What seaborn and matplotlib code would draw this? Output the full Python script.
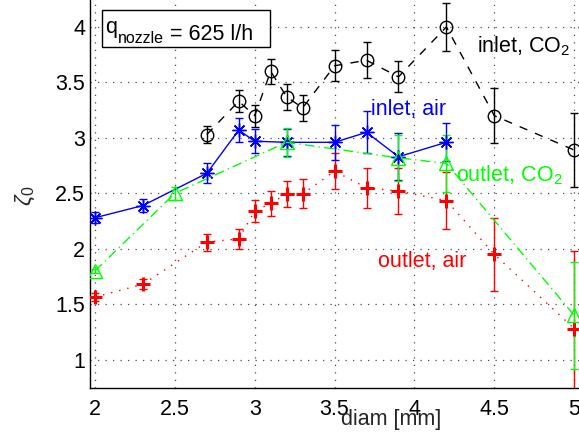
import numpy as np
import pandas as pd
import matplotlib
matplotlib.use("Agg")
import matplotlib.pyplot as plt
from matplotlib.patches import Rectangle
import seaborn as sns

# ---- data ----
inlet_air_x = [2.0, 2.3, 2.7, 2.9, 3.0, 3.2, 3.5, 3.7, 3.9, 4.2]
inlet_air_y = [2.28, 2.39, 2.68, 3.07, 2.97, 2.96, 2.96, 3.05, 2.83, 2.96]
inlet_air_e = [0.05, 0.06, 0.09, 0.11, 0.11, 0.12, 0.16, 0.19, 0.21, 0.17]

outlet_co2_x = [2.0, 2.5, 3.2, 3.9, 4.2, 5.0]
outlet_co2_y = [1.80, 2.50, 2.96, 2.82, 2.77, 1.40]
outlet_co2_e = [0.02, 0.06, 0.13, 0.21, 0.26, 0.48]

outlet_air_x = [2.0, 2.3, 2.7, 2.9, 3.0, 3.1, 3.2, 3.3, 3.5, 3.7, 3.9, 4.2, 4.5, 5.0]
outlet_air_y = [1.565, 1.68, 2.06, 2.09, 2.34, 2.41, 2.495, 2.495, 2.70, 2.55, 2.52, 2.435, 1.95, 1.28]
outlet_air_e = [0.04, 0.045, 0.077, 0.09, 0.10, 0.11, 0.12, 0.13, 0.16, 0.18, 0.21, 0.26, 0.33, 0.70]

inlet_co2_x = [2.7, 2.9, 3.0, 3.1, 3.2, 3.3, 3.5, 3.7, 3.9, 4.2, 4.5, 5.0]
inlet_co2_y = [3.03, 3.33, 3.20, 3.60, 3.37, 3.27, 3.65, 3.70, 3.55, 4.00, 3.20, 2.89]
inlet_co2_e = [0.08, 0.10, 0.10, 0.11, 0.115, 0.12, 0.14, 0.16, 0.14, 0.22, 0.25, 0.33]

x_ticks = [2, 2.5, 3, 3.5, 4, 4.5, 5]
x_tick_labels = ["2", "2.5", "3", "3.5", "4", "4.5", "5"]
y_ticks = [1, 1.5, 2, 2.5, 3, 3.5, 4]
y_tick_labels = ["1", "1.5", "2", "2.5", "3", "3.5", "4"]

series = [
    ("inlet, air", inlet_air_x, inlet_air_y, inlet_air_e),
    ("outlet, air", outlet_air_x, outlet_air_y, outlet_air_e),
    ("inlet, CO2", inlet_co2_x, inlet_co2_y, inlet_co2_e),
    ("outlet, CO2", outlet_co2_x, outlet_co2_y, outlet_co2_e),
]
df = pd.concat([
    pd.DataFrame({"series": name, "diam": x, "zeta": y, "err": e})
    for name, x, y, e in series
], ignore_index=True)

styles = {
    "inlet, air": dict(color=(0, 0, 1), marker=(8, 2, 0), ms=10, ls="-", mew=1.0),
    "outlet, air": dict(color=(1, 0, 0), marker="+", ms=10, ls=(0, (1, 5)), mew=2.2),
    "inlet, CO2": dict(color=(0, 0, 0), marker="o", ms=9, ls=(0, (6, 6)), mew=1.0),
    "outlet, CO2": dict(color=(0, 1, 0), marker="^", ms=10, ls=(0, (7, 3, 1, 3)), mew=1.0),
}

FS = 15.5

# ---- figure ----
sns.set_style("white")
plt.rcParams["font.family"] = ["Liberation Sans", "DejaVu Sans"]
plt.rcParams["mathtext.fontset"] = "custom"
plt.rcParams["mathtext.rm"] = "Liberation Sans"
plt.rcParams["mathtext.it"] = "Liberation Sans:italic"

fig = plt.figure(figsize=(5.79, 4.40), dpi=100)
ax = fig.add_axes([90 / 579, 52 / 440, 489 / 579, 388 / 440])

for name in ["inlet, CO2", "outlet, air", "inlet, air", "outlet, CO2"]:
    st = styles[name]
    sub = df[df.series == name]
    ax.errorbar(sub["diam"], sub["zeta"], yerr=sub["err"], fmt="none",
                 ecolor=st["color"], elinewidth=1.0, capsize=3.2, capthick=1.0,
                 zorder=3)
    sns.lineplot(data=sub, x="diam", y="zeta", ax=ax, color=st["color"],
                 marker=st["marker"], markersize=st["ms"],
                 markerfacecolor="none", markeredgecolor=st["color"],
                 markeredgewidth=st["mew"], linestyle=st["ls"], linewidth=1.0,
                 errorbar=None, sort=False, zorder=4)

ax.set_xlim(1.969, 5.03)
ax.set_ylim(0.745, 4.243)
ax.set_xticks(x_ticks)
ax.set_xticklabels(x_tick_labels)
ax.set_yticks(y_ticks)
ax.set_yticklabels(y_tick_labels)
ax.tick_params(axis="both", direction="in", length=4, width=0.8, labelsize=FS,
               colors="black")
ax.tick_params(axis="x", pad=8)
ax.tick_params(axis="y", pad=3.5)

ax.grid(True, color="0.3", linestyle=(0, (1, 5)), linewidth=0.9)
ax.set_axisbelow(True)
for s in ["top", "right"]:
    ax.spines[s].set_visible(False)
for s in ["left", "bottom"]:
    ax.spines[s].set_color("black")
    ax.spines[s].set_linewidth(1.0)

ax.set_xlabel("diam [mm]", fontsize=FS)
ax.xaxis.set_label_coords((391 - 90) / 489, -(409 - 388) / 388)
ax.xaxis.label.set_va("top")
ax.set_ylabel(r"$\zeta_0$", fontsize=FS + 1)
ax.yaxis.set_label_coords((25 - 90) / 489, 0.495)
ax.yaxis.label.set_va("center")

# annotation box "q_nozzle = 625 l/h"
ax.add_patch(Rectangle((102 / 579, 1 - 47 / 440), 168 / 579, 37 / 440,
                       transform=fig.transFigure, facecolor="white",
                       edgecolor="black", linewidth=1.0, zorder=5, clip_on=False))
t_q = ax.text(2.064, 3.943, "q", fontsize=FS, va="baseline", ha="left",
              color="black", zorder=6)
t_sub = ax.annotate("nozzle", xy=(1, 0), xycoords=t_q, xytext=(0.5, -3.5),
                    textcoords="offset points", fontsize=11.5, va="baseline",
                    ha="left", color="black", zorder=6)
ax.annotate(" = 625 l/h", xy=(1, 0), xycoords=t_sub, xytext=(0, 4.2),
            textcoords="offset points", fontsize=FS, va="baseline", ha="left",
            color="black", zorder=6)

ax.text(4.39, 3.775, r"inlet, CO$_2$", fontsize=FS, color="black", va="baseline")
ax.text(3.731, 3.207, "inlet, air", fontsize=FS, color=(0, 0, 1), va="baseline")
ax.text(4.263, 2.604, r"outlet, CO$_2$", fontsize=FS, color=(0, 1, 0), va="baseline")
ax.text(3.771, 1.84, "outlet, air", fontsize=FS, color=(1, 0, 0), va="baseline")

fig.savefig("out.png", dpi=100)
